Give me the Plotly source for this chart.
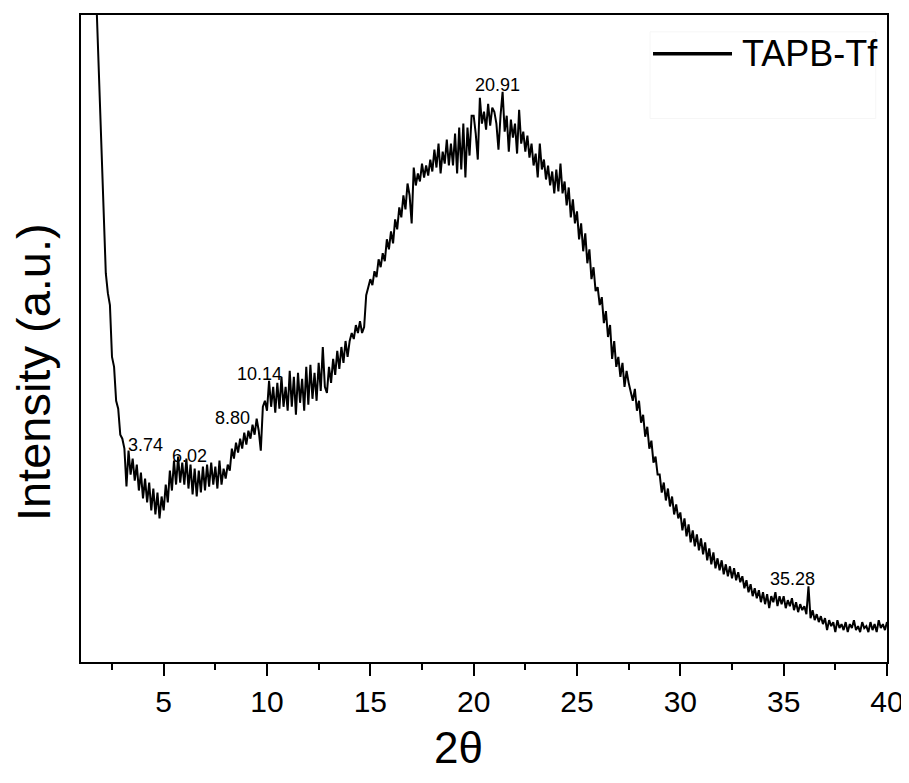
import plotly.graph_objects as go

# ---------------- data ----------------
series_name = "TAPB-Tf"
two_theta_start = 1.7
two_theta_step = 0.1
intensity = [
    690, 628, 566,
    507, 447, 390, 370, 358, 306, 296, 262, 254, 228,
    224, 214, 176, 212, 188, 204, 182, 198, 172, 190,
    164, 184, 160, 180, 152, 174, 148, 170, 144, 166,
    152, 178, 160, 192, 172, 202, 178, 206, 180, 200,
    178, 204, 174, 198, 168, 194, 166, 192, 170, 196,
    172, 198, 176, 200, 178, 196, 174, 202, 178, 194,
    184, 198, 192, 214, 204, 220, 210, 224, 214, 230,
    218, 232, 224, 238, 228, 244, 232, 212, 256, 262,
    252, 282, 256, 276, 250, 280, 254, 286, 256, 276,
    252, 292, 256, 286, 248, 290, 260, 284, 252, 296,
    258, 298, 264, 290, 262, 300, 272, 316, 276, 270,
    296, 280, 304, 288, 312, 294, 316, 300, 322, 306,
    322, 330, 324, 338, 330, 342, 330, 336, 368, 376,
    384, 378, 392, 386, 404, 396, 410, 402, 424, 414,
    432, 420, 444, 434, 456, 446, 468, 454, 480, 468,
    440, 496, 478, 490, 482, 500, 486, 498, 488, 504,
    492, 514, 496, 520, 490, 512, 500, 524, 498, 520,
    498, 530, 490, 536, 494, 540, 486, 536, 508, 548,
    548, 530, 504, 566, 540, 552, 534, 560, 538, 556,
    552, 540, 514, 548, 572, 532, 548, 512, 544, 526,
    540, 510, 554, 520, 532, 512, 528, 506, 520, 498,
    510, 486, 520, 494, 504, 484, 498, 478, 492, 470,
    494, 472, 500, 470, 482, 458, 476, 446, 464, 440,
    452, 424, 440, 412, 430, 400, 414, 384, 396, 372,
    376, 358, 366, 340, 352, 326, 338, 304, 322, 296,
    306, 286, 300, 276, 292, 280, 270, 262, 274, 252,
    262, 240, 248, 226, 236, 214, 222, 200, 206, 188,
    188, 170, 180, 162, 174, 156, 166, 148, 158, 144,
    150, 132, 144, 126, 138, 120, 132, 116, 128, 112,
    124, 108, 120, 102, 114, 98, 110, 94, 104, 92,
    102, 88, 98, 86, 96, 84, 94, 82, 90, 80,
    86, 74, 82, 70, 78, 66, 74, 64, 72, 60,
    70, 58, 68, 54, 66, 60, 70, 56, 66, 58,
    66, 54, 62, 56, 64, 52, 60, 50, 58, 52,
    56, 48, 76, 44, 52, 42, 48, 40, 46, 38,
    44, 32, 42, 36, 40, 30, 42, 34, 38, 32,
    40, 30, 38, 34, 42, 32, 36, 30, 40, 34,
    36, 30, 40, 32, 38, 30, 42, 34, 38, 32,
    40,
]
two_theta = [round(two_theta_start + two_theta_step * i, 2) for i in range(len(intensity))]

peak_labels = ["3.74", "6.02", "8.80", "10.14", "20.91", "35.28"]
x_ticks = [5, 10, 15, 20, 25, 30, 35, 40]
x_minor_ticks = [2.5, 7.5, 12.5, 17.5, 22.5, 27.5, 32.5, 37.5]
x_title = "2θ"
y_title = "Intensity (a.u.)"

# -------------- layout constants --------------
peak_label_pos = [(4.12, 218), (6.27, 207), (8.33, 245), (9.66, 289), (21.15, 579), (35.45, 83)]
FONT = "Arial, 'Liberation Sans', sans-serif"

fig = go.Figure()
fig.add_trace(go.Scatter(
    x=two_theta, y=intensity, mode="lines", name=series_name,
    line=dict(color="black", width=2), showlegend=False,
))

for lab, (px, py) in zip(peak_labels, peak_label_pos):
    fig.add_annotation(x=px, y=py, text=lab, showarrow=False,
                       font=dict(family=FONT, size=18, color="black"),
                       xanchor="center", yanchor="middle")

# axis titles as annotations for precise placement
fig.add_annotation(xref="paper", yref="paper", x=0.4678, y=-0.1325, text=x_title,
                   showarrow=False, font=dict(family=FONT, size=44, color="black"),
                   xanchor="center", yanchor="middle")
fig.add_annotation(xref="paper", yref="paper", x=-0.0596, y=0.448, text=y_title,
                   textangle=-90, showarrow=False,
                   font=dict(family=FONT, size=47, color="black"),
                   xanchor="center", yanchor="middle")

# legend drawn manually
fig.add_shape(type="rect", xref="paper", yref="paper", x0=0.706, x1=0.986, y0=0.840, y1=0.974,
              line=dict(color="#f6f6f6", width=1), fillcolor="rgba(0,0,0,0)")
fig.add_shape(type="line", xref="paper", yref="paper", x0=0.7097, x1=0.8077, y0=0.940, y1=0.940,
              line=dict(color="black", width=3.5))
fig.add_annotation(xref="paper", yref="paper", x=0.8176, y=0.940, text=series_name,
                   showarrow=False, font=dict(family=FONT, size=36, color="black"),
                   xanchor="left", yanchor="middle")

# page body has an 8px default margin, so the figure is 8px smaller than the window
fig.update_layout(
    width=901, height=775,
    margin=dict(l=73, r=22, t=5, b=121),
    paper_bgcolor="white", plot_bgcolor="white",
    font=dict(family=FONT, color="black"),
    xaxis=dict(
        range=[1, 40], tickvals=x_ticks, ticks="outside", ticklen=12, tickwidth=2,
        tickcolor="black", showline=True, linewidth=2, linecolor="black", mirror=True,
        showgrid=False, zeroline=False, tickfont=dict(family=FONT, size=30, color="black"),
        minor=dict(ticks="outside", ticklen=6, tickwidth=2, tickcolor="black",
                   tickvals=x_minor_ticks, showgrid=False),
    ),
    yaxis=dict(
        range=[0, 649], showticklabels=False, ticks="", showline=True, linewidth=2,
        linecolor="black", mirror=True, showgrid=False, zeroline=False,
    ),
)

fig.write_html("out.html")
